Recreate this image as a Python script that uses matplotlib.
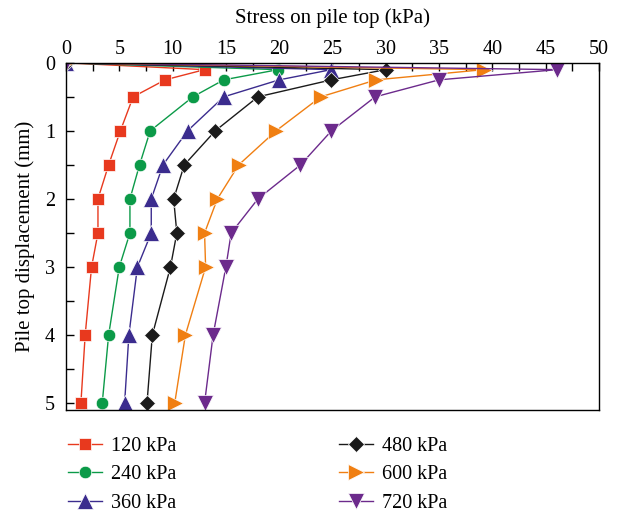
import matplotlib
matplotlib.use("Agg")
import matplotlib.pyplot as plt

plt.rcParams["font.family"] = ["Liberation Serif", "DejaVu Serif"]

# displacement levels (mm)
disp = [0, 0.1, 0.25, 0.5, 1.0, 1.5, 2.0, 2.5, 3.0, 4.0, 5.0]

# stress on pile top (kPa) for each load level
s120 = [0, 13.0, 9.3, 6.3, 5.1, 4.0, 3.0, 3.0, 2.4, 1.8, 1.4]
s240 = [0, 19.9, 14.8, 11.9, 7.9, 6.9, 6.0, 6.0, 5.0, 4.0, 3.4]
s360 = [0, 24.9, 20.0, 14.8, 11.4, 9.1, 8.0, 8.0, 6.7, 5.9, 5.5]
s480 = [0, 30.0, 24.9, 18.0, 14.0, 11.1, 10.1, 10.4, 9.8, 8.1, 7.6]
s600 = [0, 39.2, 29.1, 23.9, 19.7, 16.2, 14.2, 13.0, 13.1, 11.2, 10.2]
s720 = [0, 46.1, 35.0, 29.0, 24.9, 22.0, 18.0, 15.5, 15.0, 13.8, 13.0]

labels = ["120 kPa", "240 kPa", "360 kPa", "480 kPa", "600 kPa", "720 kPa"]
series = [s120, s240, s360, s480, s600, s720]
colors = ["#e8391e", "#0b9a48", "#3b2c8e", "#1a1a1a", "#f07f12", "#6c2a8c"]
markers = ["s", "o", "^", "D", ">", "v"]
sizes = [8, 9, 11, 8, 11, 11]

fig = plt.figure(figsize=(6.19, 5.15), dpi=100)
ax = fig.add_axes([0.1066, 0.204, 0.861, 0.674])

for s, lab, c, m, ms in zip(series, labels, colors, markers, sizes):
    ax.plot(s, disp, color=c, marker=m, markersize=ms, linewidth=1.0,
            markeredgecolor="white", markeredgewidth=0.5, label=lab)

ax.set_xlim(0, 50)
ax.set_ylim(5.1, 0)
ax.xaxis.tick_top()
ax.xaxis.set_label_position("top")
ax.set_xticks(range(0, 51, 5))
ax.set_xticks([x + 2.5 for x in range(0, 50, 5)], minor=True)
ax.set_yticks(range(0, 6))
ax.set_yticks([0.5, 1.5, 2.5, 3.5, 4.5], minor=True)
ax.tick_params(which="both", direction="in", labelsize=14.5, width=1.0, length=6)
ax.tick_params(axis="x", pad=3)
ax.tick_params(axis="y", pad=8)
for sp in ax.spines.values():
    sp.set_linewidth(1.0)

ax.set_xlabel("Stress on pile top (kPa)", fontsize=15, labelpad=12)
ax.set_ylabel("Pile top displacement (mm)", fontsize=15, labelpad=7)

fig.legend(loc="upper left", bbox_to_anchor=(0.097, 0.168), ncol=2,
           frameon=False, fontsize=14.5, handlelength=1.7, columnspacing=8.05,
           labelspacing=0.48, handletextpad=0.45, borderaxespad=0, borderpad=0.4)

plt.savefig("out.png", dpi=100)
